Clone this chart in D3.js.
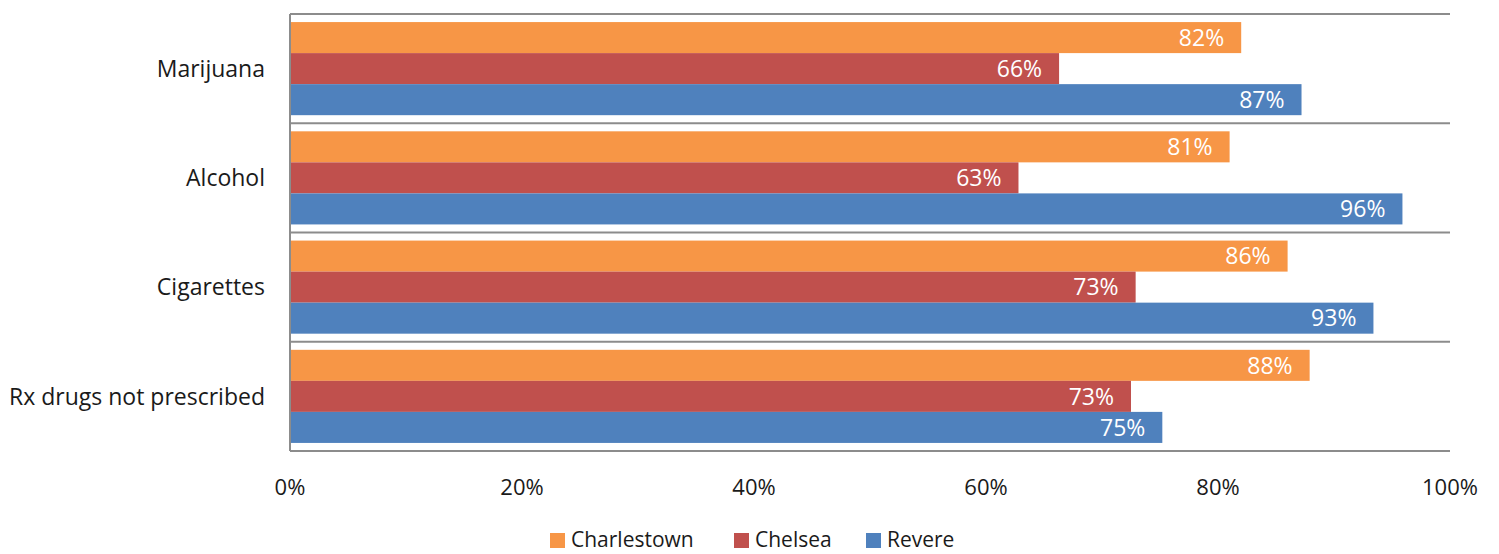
<!DOCTYPE html>
<html>
<head>
<meta charset="utf-8">
<script src="https://cdn.jsdelivr.net/npm/d3@7"></script>
<style>
  body { margin: 0; background: #fff; overflow: hidden; }
  svg { display: block; font-family: "Open Sans", Lato, sans-serif; }
</style>
</head>
<body>
<svg id="chart" width="1499" height="554"></svg>
<script>
// chart data
const categories = ["Marijuana", "Alcohol", "Cigarettes", "Rx drugs not prescribed"];
const seriesNames = ["Charlestown", "Chelsea", "Revere"];
const charlestown = [82.0, 81.0, 86.0, 87.9];
const chelsea = [66.3, 62.8, 72.9, 72.5];
const revere = [87.2, 95.9, 93.4, 75.2];
const xTicks = [0, 20, 40, 60, 80, 100];
const colors = ["#F79646", "#C0504D", "#4F81BD"];

const seriesValues = [charlestown, chelsea, revere];

const svg = d3.select("#chart");
const margin = {top: 14, right: 49, bottom: 103, left: 290};
const width = +svg.attr("width");
const height = +svg.attr("height");

// scales in page coordinates
const x = d3.scaleLinear().domain([0, 100]).range([margin.left, width - margin.right]);
const y = d3.scaleBand().domain(categories).range([margin.top, height - margin.bottom]);
// bars inside each category band
const ySub = d3.scaleBand().domain(seriesNames).range([0, y.bandwidth()])
    .paddingInner(0).paddingOuter(0.26);

// horizontal separators between categories
const lines = d3.range(categories.length + 1).map(i => margin.top + i * y.step());
svg.selectAll(".sep")
  .data(lines)
  .enter().append("line")
    .attr("x1", x(0)).attr("x2", x(100))
    .attr("y1", d => d).attr("y2", d => d)
    .attr("stroke", "#8c8c8c").attr("stroke-width", 2);

// bars
const rows = [];
categories.forEach((c, i) => {
  seriesNames.forEach((s, j) => rows.push({cat: c, series: s, value: seriesValues[j][i], color: colors[j]}));
});

svg.selectAll(".bar")
  .data(rows)
  .enter().append("rect")
    .attr("x", x(0))
    .attr("y", d => y(d.cat) + ySub(d.series))
    .attr("width", d => x(d.value) - x(0))
    .attr("height", ySub.bandwidth())
    .attr("fill", d => d.color);

svg.selectAll(".val")
  .data(rows)
  .enter().append("text")
    .attr("x", d => x(d.value) - 17)
    .attr("y", d => y(d.cat) + ySub(d.series) + ySub.bandwidth() / 2)
    .attr("dy", "0.36em")
    .attr("text-anchor", "end")
    .attr("fill", "#fff")
    .attr("font-size", 23)
    .text(d => Math.round(d.value) + "%");

// left axis line
svg.append("line")
    .attr("x1", x(0)).attr("x2", x(0))
    .attr("y1", margin.top).attr("y2", height - margin.bottom)
    .attr("stroke", "#8c8c8c").attr("stroke-width", 2);

// category labels
svg.selectAll(".cat")
  .data(categories)
  .enter().append("text")
    .attr("x", x(0) - 25)
    .attr("y", d => y(d) + y.bandwidth() / 2)
    .attr("dy", "0.36em")
    .attr("text-anchor", "end")
    .attr("fill", "#1a1a1a")
    .attr("font-size", 23)
    .text(d => d);

// x tick labels
svg.selectAll(".tick")
  .data(xTicks)
  .enter().append("text")
    .attr("x", d => x(d))
    .attr("y", height - margin.bottom + 36)
    .attr("dy", "0.36em")
    .attr("text-anchor", "middle")
    .attr("fill", "#1a1a1a")
    .attr("font-size", 22)
    .text(d => d + "%");

// legend
const legendX = [550, 734, 866];
const legendY = 533;
svg.selectAll(".legend-key")
  .data(seriesNames)
  .enter().append("rect")
    .attr("x", (d, i) => legendX[i])
    .attr("y", legendY)
    .attr("width", 15).attr("height", 15)
    .attr("fill", (d, i) => colors[i]);
svg.selectAll(".legend-label")
  .data(seriesNames)
  .enter().append("text")
    .attr("x", (d, i) => legendX[i] + 21)
    .attr("y", legendY + 7)
    .attr("dy", "0.35em")
    .attr("fill", "#1a1a1a")
    .attr("font-size", 21)
    .text(d => d);
</script>
</body>
</html>
